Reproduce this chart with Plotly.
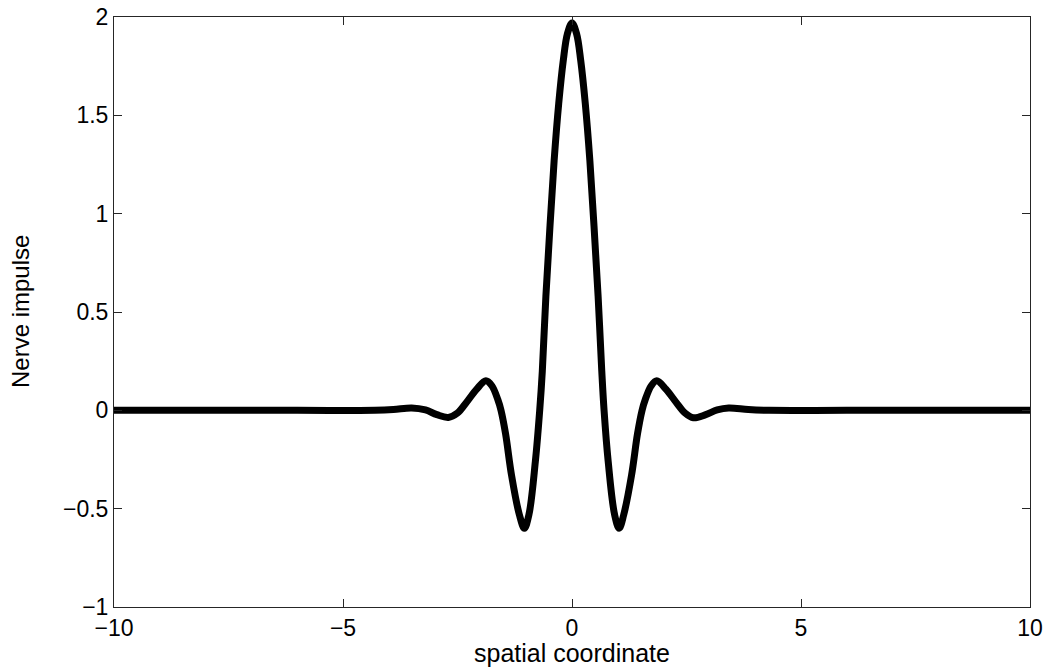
import plotly.graph_objects as go

# Values
x_vals = [-10, -6, -4.3, -3.9, -3.5, -3.2, -2.95, -2.7, -2.5, -2.3, -2.08, -1.88, -1.75,
          -1.62, -1.55, -1.45, -1.32, -1.15, -1.04, -0.94, -0.80, -0.705, -0.648, -0.57,
          -0.48, -0.39, -0.29, -0.19, -0.10, 0.0,
          0.10, 0.19, 0.29, 0.39, 0.48, 0.57, 0.65, 0.70, 0.79, 0.93, 1.03, 1.13, 1.30,
          1.43, 1.53, 1.60, 1.73, 1.85, 2.05, 2.27, 2.47, 2.65, 2.92, 3.17, 3.42, 3.85,
          4.3, 6, 10]
y_vals = [0, 0, 0, 0.004, 0.012, 0.002, -0.022, -0.036, -0.014, 0.042, 0.108, 0.15, 0.125,
          0.055, 0.0, -0.12, -0.33, -0.53, -0.60, -0.53, -0.26, 0.0, 0.20, 0.58,
          0.94, 1.27, 1.56, 1.78, 1.915, 1.97,
          1.915, 1.78, 1.56, 1.27, 0.94, 0.58, 0.20, 0.0, -0.26, -0.53, -0.60, -0.53, -0.33,
          -0.12, 0.0, 0.055, 0.125, 0.15, 0.108, 0.042, -0.014, -0.038, -0.022, 0.002, 0.012, 0.004,
          0, 0, 0]

x_ticks = [-10, -5, 0, 5, 10]
x_tick_text = ["\u221210", "\u22125", "0", "5", "10"]
y_ticks = [-1, -0.5, 0, 0.5, 1, 1.5, 2]
y_tick_text = ["\u22121", "\u22120.5", "0", "0.5", "1", "1.5", "2"]

x_label = "spatial coordinate"
y_label = "Nerve impulse"

FONT = "Liberation Sans, Arial, Helvetica, sans-serif"

fig = go.Figure()
fig.add_trace(go.Scatter(
    x=x_vals, y=y_vals, mode="lines",
    line=dict(color="black", width=7, shape="spline", smoothing=1.0),
    hoverinfo="skip", showlegend=False,
))

axis_common = dict(
    showgrid=False, zeroline=False, automargin=False,
    showline=True, linecolor="#262626", linewidth=1, mirror="allticks",
    ticks="inside", ticklen=8, tickwidth=1, tickcolor="#262626",
    tickfont=dict(family=FONT, size=23, color="black"),
)

fig.update_layout(
    width=1053, height=669,
    margin=dict(l=114, r=23, t=17, b=62, autoexpand=False),
    paper_bgcolor="white", plot_bgcolor="white",
    xaxis=dict(range=[-10, 10], tickvals=x_ticks, ticktext=x_tick_text, **axis_common),
    yaxis=dict(range=[-1, 2], tickvals=y_ticks, ticktext=y_tick_text, **axis_common),
    annotations=[
        dict(text=x_label, xref="paper", yref="paper", x=0.5, y=0,
             xanchor="center", yanchor="middle", yshift=-46, showarrow=False,
             font=dict(family=FONT, size=25, color="black")),
        dict(text=y_label, xref="paper", yref="paper", x=0, y=0.5,
             xanchor="center", yanchor="middle", xshift=-94, textangle=-90,
             showarrow=False, font=dict(family=FONT, size=24, color="black")),
    ],
)

fig.write_html("out.html", config={"displayModeBar": False},
               post_script="document.body.style.margin='0';document.body.style.overflow='hidden';")
